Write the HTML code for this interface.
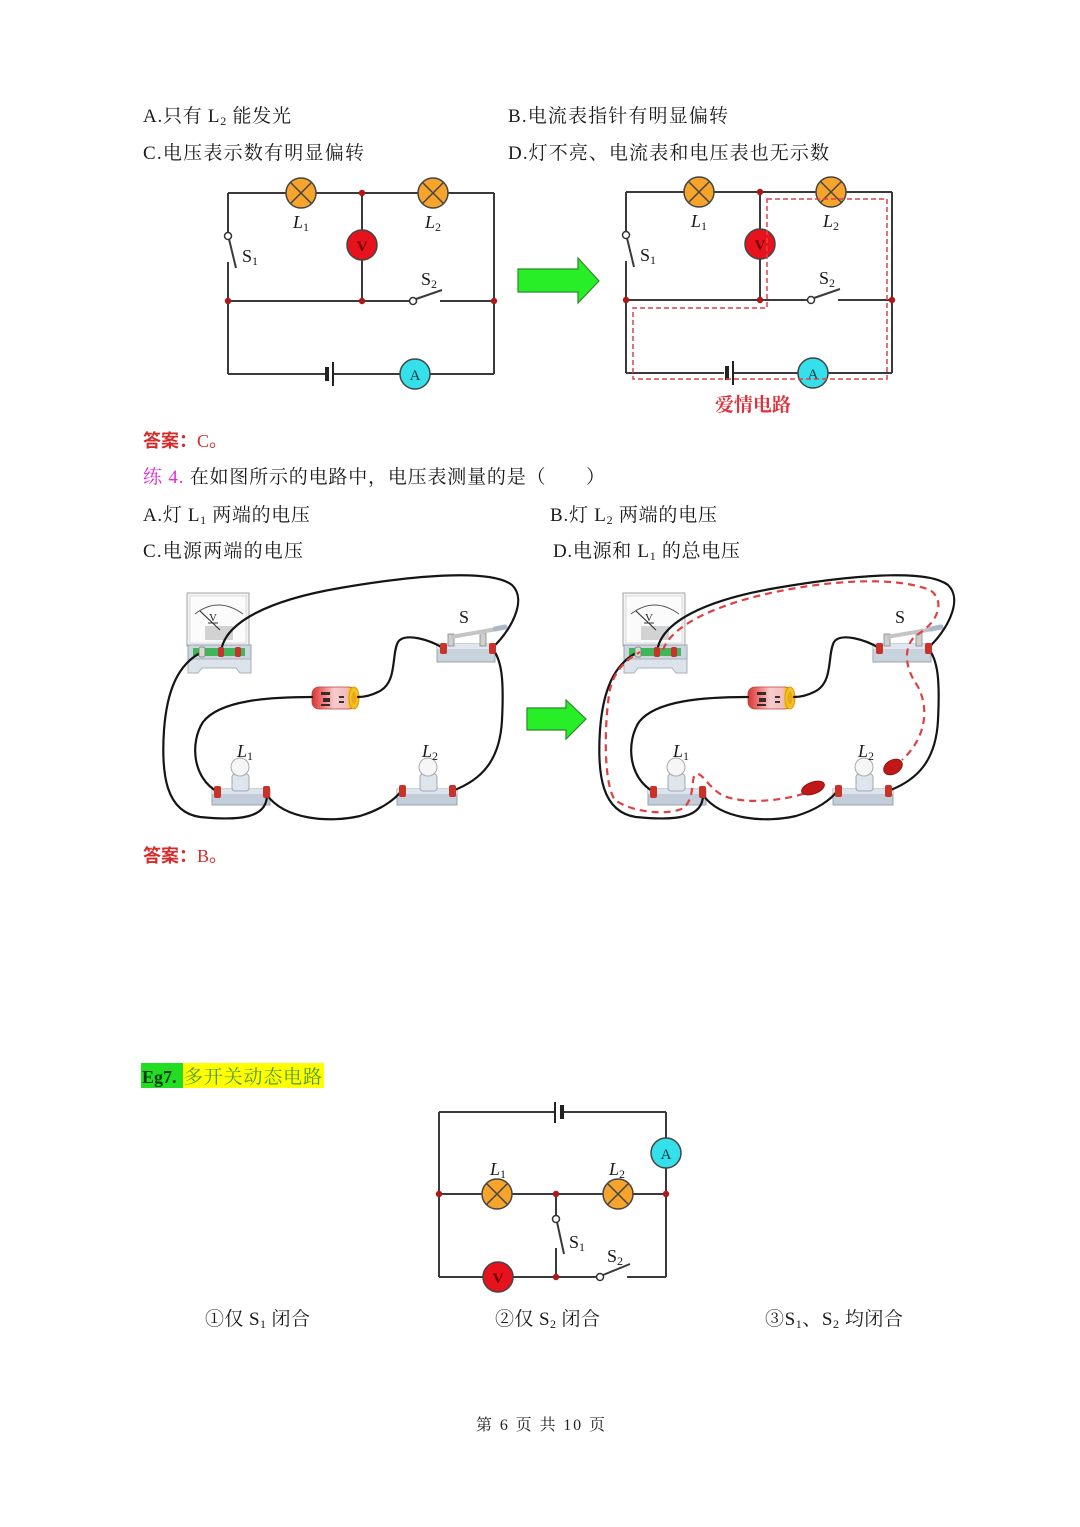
<!DOCTYPE html>
<html><head><meta charset="utf-8">
<style>
html,body{margin:0;padding:0;background:#fff;}
svg{display:block;}
.t{font-family:"Liberation Serif","Noto Serif CJK SC",serif;font-size:19px;fill:#1a1a1a;}
.lab{font-family:"Liberation Serif",serif;font-size:18px;fill:#1a1a1a;}
.it{font-style:italic;}
</style></head>
<body>
<svg width="1080" height="1527" viewBox="0 0 1080 1527" xmlns="http://www.w3.org/2000/svg">
<defs>
<linearGradient id="bat" x1="0" y1="0" x2="1" y2="0">
<stop offset="0" stop-color="#d83434"/><stop offset="0.25" stop-color="#ef7a7a"/>
<stop offset="0.5" stop-color="#f7cccc"/><stop offset="0.8" stop-color="#f2bcbc"/>
<stop offset="0.85" stop-color="#f5c21c"/><stop offset="1" stop-color="#f5c21c"/>
</linearGradient>
</defs>

<!-- ===== Text top ===== -->
<text class="t" x="143" y="122" textLength="148">A.只有 L<tspan font-size="12" dy="3">2</tspan><tspan dy="-3"> 能发光</tspan></text>
<text class="t" x="508" y="122" textLength="220">B.电流表指针有明显偏转</text>
<text class="t" x="143" y="159" textLength="221">C.电压表示数有明显偏转</text>
<text class="t" x="508" y="159" textLength="321">D.灯不亮、电流表和电压表也无示数</text>

<!-- ===== Top left circuit ===== -->
<g stroke="#3a3a3a" stroke-width="2" fill="none">
<line x1="228" y1="193" x2="494" y2="193"/>
<line x1="228" y1="193" x2="228" y2="233"/>
<line x1="229" y1="239" x2="236" y2="268"/>
<line x1="228" y1="262" x2="228" y2="374"/>
<line x1="494" y1="193" x2="494" y2="374"/>
<line x1="228" y1="301" x2="410" y2="301"/>
<line x1="416" y1="299" x2="442" y2="290"/>
<line x1="440" y1="301" x2="494" y2="301"/>
<line x1="362" y1="193" x2="362" y2="301"/>
<line x1="228" y1="374" x2="326" y2="374"/>
<line x1="334" y1="374" x2="494" y2="374"/>
</g>
<circle cx="228" cy="236" r="3.5" fill="#fff" stroke="#333" stroke-width="1.5"/>
<circle cx="413" cy="301" r="3.5" fill="#fff" stroke="#333" stroke-width="1.5"/>
<line x1="327" y1="367" x2="327" y2="381" stroke="#222" stroke-width="4"/>
<line x1="333" y1="362" x2="333" y2="386" stroke="#222" stroke-width="2"/>
<g stroke="#444" stroke-width="1.5">
<circle cx="301" cy="193" r="15" fill="#f6a42c"/>
<line x1="290.4" y1="182.4" x2="311.6" y2="203.6"/><line x1="311.6" y1="182.4" x2="290.4" y2="203.6"/>
<circle cx="433" cy="193" r="15" fill="#f6a42c"/>
<line x1="422.4" y1="182.4" x2="443.6" y2="203.6"/><line x1="443.6" y1="182.4" x2="422.4" y2="203.6"/>
<circle cx="362" cy="245" r="15" fill="#e8121c"/>
<circle cx="415" cy="374" r="15" fill="#34e0ea"/>
</g>
<text x="362" y="251" text-anchor="middle" font-family="Liberation Serif,serif" font-size="15" font-weight="bold" fill="#6a0000">V</text>
<text x="415" y="380" text-anchor="middle" font-family="Liberation Serif,serif" font-size="15" fill="#0a3a4a">A</text>
<g fill="#b01818"><circle cx="362" cy="193" r="3.2"/><circle cx="228" cy="301" r="3.2"/><circle cx="362" cy="301" r="3.2"/><circle cx="494" cy="301" r="3.2"/></g>
<text class="lab" x="293" y="228"><tspan class="it">L</tspan><tspan font-size="12" dy="3">1</tspan></text>
<text class="lab" x="425" y="228"><tspan class="it">L</tspan><tspan font-size="12" dy="3">2</tspan></text>
<text class="lab" x="242" y="262">S<tspan font-size="12" dy="3">1</tspan></text>
<text class="lab" x="421" y="285">S<tspan font-size="12" dy="3">2</tspan></text>

<!-- green arrow top -->
<polygon points="518,269 578,269 578,258 599,281 578,303 578,292 518,292" fill="#28ee28" stroke="#2a8a2a" stroke-width="1.2"/>

<!-- ===== Top right circuit ===== -->
<g transform="translate(398,-1)">
<g stroke="#3a3a3a" stroke-width="2" fill="none">
<line x1="228" y1="193" x2="494" y2="193"/>
<line x1="228" y1="193" x2="228" y2="233"/>
<line x1="229" y1="239" x2="236" y2="268"/>
<line x1="228" y1="262" x2="228" y2="374"/>
<line x1="494" y1="193" x2="494" y2="374"/>
<line x1="228" y1="301" x2="410" y2="301"/>
<line x1="416" y1="299" x2="442" y2="290"/>
<line x1="440" y1="301" x2="494" y2="301"/>
<line x1="362" y1="193" x2="362" y2="301"/>
<line x1="228" y1="374" x2="326" y2="374"/>
<line x1="334" y1="374" x2="494" y2="374"/>
</g>
<circle cx="228" cy="236" r="3.5" fill="#fff" stroke="#333" stroke-width="1.5"/>
<circle cx="413" cy="301" r="3.5" fill="#fff" stroke="#333" stroke-width="1.5"/>
<line x1="329" y1="367" x2="329" y2="381" stroke="#222" stroke-width="4"/>
<line x1="335" y1="362" x2="335" y2="386" stroke="#222" stroke-width="2"/>
<g stroke="#444" stroke-width="1.5">
<circle cx="301" cy="193" r="15" fill="#f6a42c"/>
<line x1="290.4" y1="182.4" x2="311.6" y2="203.6"/><line x1="311.6" y1="182.4" x2="290.4" y2="203.6"/>
<circle cx="433" cy="193" r="15" fill="#f6a42c"/>
<line x1="422.4" y1="182.4" x2="443.6" y2="203.6"/><line x1="443.6" y1="182.4" x2="422.4" y2="203.6"/>
<circle cx="362" cy="245" r="15" fill="#e8121c"/>
<circle cx="415" cy="374" r="15" fill="#34e0ea"/>
</g>
<text x="362" y="251" text-anchor="middle" font-family="Liberation Serif,serif" font-size="15" font-weight="bold" fill="#6a0000">V</text>
<text x="415" y="380" text-anchor="middle" font-family="Liberation Serif,serif" font-size="15" fill="#0a3a4a">A</text>
<g fill="#b01818"><circle cx="362" cy="193" r="3.2"/><circle cx="228" cy="301" r="3.2"/><circle cx="362" cy="301" r="3.2"/><circle cx="494" cy="301" r="3.2"/></g>
<text class="lab" x="293" y="228"><tspan class="it">L</tspan><tspan font-size="12" dy="3">1</tspan></text>
<text class="lab" x="425" y="228"><tspan class="it">L</tspan><tspan font-size="12" dy="3">2</tspan></text>
<text class="lab" x="242" y="262">S<tspan font-size="12" dy="3">1</tspan></text>
<text class="lab" x="421" y="285">S<tspan font-size="12" dy="3">2</tspan></text>
</g>
<polygon points="767,199 887,199 887,379 633,379 633,308 767,308" fill="none" stroke="#e2404a" stroke-width="1.5" stroke-dasharray="5,3"/>
<text x="753" y="411" text-anchor="middle" font-family="'Noto Serif CJK SC',serif" font-weight="bold" font-size="19" fill="#e0303a">爱情电路</text>

<!-- ===== Middle texts ===== -->
<text x="143" y="447" font-family="'Noto Sans CJK SC',sans-serif" font-weight="bold" font-size="18" fill="#d42a2a">答案：<tspan font-family="Liberation Serif,serif" font-weight="normal">C。</tspan></text>
<text class="t" x="143" y="483" textLength="462"><tspan fill="#e02ce0">练 4.</tspan> 在如图所示的电路中，电压表测量的是（　　）</text>
<text class="t" x="143" y="521" textLength="167">A.灯 L<tspan font-size="12" dy="3">1</tspan><tspan dy="-3"> 两端的电压</tspan></text>
<text class="t" x="550" y="521" textLength="167">B.灯 L<tspan font-size="12" dy="3">2</tspan><tspan dy="-3"> 两端的电压</tspan></text>
<text class="t" x="143" y="557" textLength="160">C.电源两端的电压</text>
<text class="t" x="553" y="557" textLength="187">D.电源和 L<tspan font-size="12" dy="3">1</tspan><tspan dy="-3"> 的总电压</tspan></text>

<!-- ===== Physical circuit left ===== -->
<g id="physL">
<!-- voltmeter -->
<rect x="187" y="593" width="62" height="53" fill="#f2f2f2" stroke="#a0a4aa"/>
<rect x="190" y="596" width="56" height="47" fill="#fbfbfb" stroke="#c8c8c8" stroke-width="0.6"/>
<path d="M195,614 Q218,596 243,614" fill="none" stroke="#555" stroke-width="1"/>
<text x="213" y="621" text-anchor="middle" font-family="Liberation Serif,serif" font-size="11" fill="#222">V</text>
<line x1="208" y1="623" x2="218" y2="623" stroke="#333" stroke-width="1"/>
<rect x="205" y="626" width="28" height="14" fill="#d2d2d2"/>
<line x1="220" y1="630" x2="200" y2="611" stroke="#333" stroke-width="1.2"/>
<rect x="188" y="645" width="63" height="14" fill="#ccd6e2" stroke="#9aa4ae"/>
<rect x="193" y="648" width="52" height="8" fill="#40b55a"/>
<path d="M188,659 H251 V673 H240 L236,668 H202 L198,673 H188 Z" fill="#dde3ea" stroke="#a9b0b8"/>
<!-- switch -->
<rect x="437" y="644" width="58" height="18" fill="#c9d3de" stroke="#9aa4ae"/>
<rect x="437" y="644" width="58" height="5" fill="#dfe6ee"/>
<rect x="448" y="634" width="6" height="12" fill="#cfcfcf" stroke="#888" stroke-width="0.8"/>
<rect x="480" y="633" width="6" height="13" fill="#cfcfcf" stroke="#888" stroke-width="0.8"/>
<line x1="451" y1="637" x2="497" y2="629" stroke="#c4c4c4" stroke-width="4"/>
<line x1="495" y1="629" x2="505" y2="627" stroke="#aab8c8" stroke-width="5" stroke-linecap="round"/>
<!-- battery -->
<rect x="312" y="687" width="44" height="22" rx="7" fill="url(#bat)" stroke="#c04040" stroke-width="0.8"/>
<rect x="321" y="692" width="9" height="3" fill="#3a2a2a"/><rect x="323" y="698" width="7" height="4" fill="#3a2a2a"/><rect x="321" y="704" width="9" height="2" fill="#3a2a2a"/>
<rect x="339" y="696" width="5" height="2" fill="#333"/><rect x="339" y="701" width="5" height="2" fill="#333"/>
<ellipse cx="354" cy="698" rx="5" ry="11" fill="#f5c21c" stroke="#d89a10"/>
<ellipse cx="354" cy="698" rx="2.5" ry="6" fill="#e8a818"/>
<!-- lamp holders -->
<rect x="212" y="789" width="58" height="16" fill="#c3cdd9" stroke="#9aa4ae"/>
<rect x="212" y="789" width="58" height="5" fill="#dbe3ec"/>
<rect x="232" y="774" width="17" height="17" rx="3" fill="#dfe5ec" stroke="#a0a8b2"/>
<circle cx="240" cy="767" r="9" fill="#f6f6f6" stroke="#a8a8a8"/>
<rect x="397" y="789" width="60" height="16" fill="#c3cdd9" stroke="#9aa4ae"/>
<rect x="397" y="789" width="60" height="5" fill="#dbe3ec"/>
<rect x="420" y="774" width="17" height="17" rx="3" fill="#dfe5ec" stroke="#a0a8b2"/>
<circle cx="428" cy="767" r="9" fill="#f6f6f6" stroke="#a8a8a8"/>
<!-- wires -->
<g fill="none" stroke="#151515" stroke-width="2.2" stroke-linecap="round">
<path d="M221,652 C224,622 270,600 340,588 C410,576 490,568 512,585 C528,600 510,632 492,648"/>
<path d="M443,648 C430,640 405,632 398,642 C391,655 398,683 378,692 C370,696 364,697 358,697"/>
<path d="M312,697 C270,697 220,700 203,722 C190,742 192,778 218,792"/>
<path d="M202,652 C178,664 167,690 164,730 C161,775 166,812 200,817 C240,821 267,818 267,795"/>
<path d="M267,795 C285,820 330,823 360,816 C380,810 395,800 402,790"/>
<path d="M452,791 C482,780 500,760 502,720 C504,680 502,660 492,648"/>
</g>
<!-- terminals -->
<rect x="199" y="647" width="6" height="10" rx="2" fill="#d9d9d0" stroke="#777" stroke-width="0.8"/>
<rect x="218" y="647" width="6" height="10" rx="2" fill="#c83228"/>
<rect x="235" y="647" width="6" height="10" rx="2" fill="#c83228"/>
<rect x="440" y="643" width="7" height="11" rx="2" fill="#c83228"/>
<rect x="489" y="643" width="7" height="11" rx="2" fill="#c83228"/>
<rect x="214" y="786" width="7" height="12" rx="2" fill="#c83228"/>
<rect x="263" y="786" width="7" height="12" rx="2" fill="#c83228"/>
<rect x="399" y="785" width="7" height="12" rx="2" fill="#c83228"/>
<rect x="449" y="785" width="7" height="12" rx="2" fill="#c83228"/>
<text class="lab" x="237" y="757"><tspan class="it">L</tspan><tspan font-size="12" dy="3">1</tspan></text>
<text class="lab" x="422" y="757"><tspan class="it">L</tspan><tspan font-size="12" dy="3">2</tspan></text>
<text class="lab" x="459" y="623">S</text>
</g>

<!-- middle green arrow -->
<polygon points="527,708 566,708 566,700 586,719 566,739 566,730 527,730" fill="#28ee28" stroke="#2a8a2a" stroke-width="1.2"/>

<!-- ===== Physical circuit right ===== -->
<g transform="translate(436,0)">
<rect x="187" y="593" width="62" height="53" fill="#f2f2f2" stroke="#a0a4aa"/>
<rect x="190" y="596" width="56" height="47" fill="#fbfbfb" stroke="#c8c8c8" stroke-width="0.6"/>
<path d="M195,614 Q218,596 243,614" fill="none" stroke="#555" stroke-width="1"/>
<text x="213" y="621" text-anchor="middle" font-family="Liberation Serif,serif" font-size="11" fill="#222">V</text>
<line x1="208" y1="623" x2="218" y2="623" stroke="#333" stroke-width="1"/>
<rect x="205" y="626" width="28" height="14" fill="#d2d2d2"/>
<line x1="220" y1="630" x2="200" y2="611" stroke="#333" stroke-width="1.2"/>
<rect x="188" y="645" width="63" height="14" fill="#ccd6e2" stroke="#9aa4ae"/>
<rect x="193" y="648" width="52" height="8" fill="#40b55a"/>
<path d="M188,659 H251 V673 H240 L236,668 H202 L198,673 H188 Z" fill="#dde3ea" stroke="#a9b0b8"/>
<rect x="437" y="644" width="58" height="18" fill="#c9d3de" stroke="#9aa4ae"/>
<rect x="437" y="644" width="58" height="5" fill="#dfe6ee"/>
<rect x="448" y="634" width="6" height="12" fill="#cfcfcf" stroke="#888" stroke-width="0.8"/>
<rect x="480" y="633" width="6" height="13" fill="#cfcfcf" stroke="#888" stroke-width="0.8"/>
<line x1="451" y1="637" x2="497" y2="629" stroke="#c4c4c4" stroke-width="4"/>
<line x1="495" y1="629" x2="505" y2="627" stroke="#aab8c8" stroke-width="5" stroke-linecap="round"/>
<rect x="312" y="687" width="44" height="22" rx="7" fill="url(#bat)" stroke="#c04040" stroke-width="0.8"/>
<rect x="321" y="692" width="9" height="3" fill="#3a2a2a"/><rect x="323" y="698" width="7" height="4" fill="#3a2a2a"/><rect x="321" y="704" width="9" height="2" fill="#3a2a2a"/>
<rect x="339" y="696" width="5" height="2" fill="#333"/><rect x="339" y="701" width="5" height="2" fill="#333"/>
<ellipse cx="354" cy="698" rx="5" ry="11" fill="#f5c21c" stroke="#d89a10"/>
<ellipse cx="354" cy="698" rx="2.5" ry="6" fill="#e8a818"/>
<rect x="212" y="789" width="58" height="16" fill="#c3cdd9" stroke="#9aa4ae"/>
<rect x="212" y="789" width="58" height="5" fill="#dbe3ec"/>
<rect x="232" y="774" width="17" height="17" rx="3" fill="#dfe5ec" stroke="#a0a8b2"/>
<circle cx="240" cy="767" r="9" fill="#f6f6f6" stroke="#a8a8a8"/>
<rect x="397" y="789" width="60" height="16" fill="#c3cdd9" stroke="#9aa4ae"/>
<rect x="397" y="789" width="60" height="5" fill="#dbe3ec"/>
<rect x="420" y="774" width="17" height="17" rx="3" fill="#dfe5ec" stroke="#a0a8b2"/>
<circle cx="428" cy="767" r="9" fill="#f6f6f6" stroke="#a8a8a8"/>
<g fill="none" stroke="#151515" stroke-width="2.2" stroke-linecap="round">
<path d="M221,652 C224,622 270,600 340,588 C410,576 490,568 512,585 C528,600 510,632 492,648"/>
<path d="M443,648 C430,640 405,632 398,642 C391,655 398,683 378,692 C370,696 364,697 358,697"/>
<path d="M312,697 C270,697 220,700 203,722 C190,742 192,778 218,792"/>
<path d="M202,652 C178,664 167,690 164,730 C161,775 166,812 200,817 C240,821 267,818 267,795"/>
<path d="M267,795 C285,820 330,823 360,816 C380,810 395,800 402,790"/>
<path d="M452,791 C482,780 500,760 502,720 C504,680 502,660 492,648"/>
</g>
<rect x="199" y="647" width="6" height="10" rx="2" fill="#d9d9d0" stroke="#777" stroke-width="0.8"/>
<rect x="218" y="647" width="6" height="10" rx="2" fill="#c83228"/>
<rect x="235" y="647" width="6" height="10" rx="2" fill="#c83228"/>
<rect x="440" y="643" width="7" height="11" rx="2" fill="#c83228"/>
<rect x="489" y="643" width="7" height="11" rx="2" fill="#c83228"/>
<rect x="214" y="786" width="7" height="12" rx="2" fill="#c83228"/>
<rect x="263" y="786" width="7" height="12" rx="2" fill="#c83228"/>
<rect x="399" y="785" width="7" height="12" rx="2" fill="#c83228"/>
<rect x="449" y="785" width="7" height="12" rx="2" fill="#c83228"/>
<text class="lab" x="237" y="757"><tspan class="it">L</tspan><tspan font-size="12" dy="3">1</tspan></text>
<text class="lab" x="422" y="757"><tspan class="it">L</tspan><tspan font-size="12" dy="3">2</tspan></text>
<text class="lab" x="459" y="623">S</text>
</g>
<g fill="none" stroke="#e04040" stroke-width="2.2" stroke-dasharray="7,5">
<path d="M663,650 C670,630 700,612 750,598 C810,582 890,574 930,590 C945,600 940,622 915,636 C903,648 905,668 917,685 C930,708 926,738 902,760"/>
<path d="M815,790 C790,800 745,806 722,795 C708,787 702,772 696,774 C690,778 696,795 684,808 C670,815 635,814 615,800 C604,785 604,730 609,695 C612,673 625,660 640,652"/>
</g>
<ellipse cx="813" cy="788" rx="12" ry="6" transform="rotate(-20 813 788)" fill="#c01818" stroke="#801010" stroke-width="0.8"/>
<ellipse cx="893" cy="767" rx="10" ry="7" transform="rotate(-30 893 767)" fill="#c01818" stroke="#801010" stroke-width="0.8"/>

<text x="143" y="862" font-family="'Noto Sans CJK SC',sans-serif" font-weight="bold" font-size="18" fill="#d42a2a">答案：<tspan font-family="Liberation Serif,serif" font-weight="normal">B。</tspan></text>

<!-- ===== Eg7 heading ===== -->
<rect x="141" y="1063" width="42" height="25" fill="#22dd22"/>
<rect x="183" y="1063" width="141" height="25" fill="#ffff00"/>
<text x="142" y="1083" font-family="Liberation Serif,serif" font-weight="bold" font-size="18" fill="#0a3a0a">Eg7.</text>
<text x="184" y="1083" font-family="'Noto Serif CJK SC',serif" font-size="19" fill="#4e9a24" textLength="138">多开关动态电路</text>

<!-- ===== Eg7 circuit ===== -->
<g stroke="#3a3a3a" stroke-width="2" fill="none">
<line x1="439" y1="1112" x2="554" y2="1112"/>
<line x1="563" y1="1112" x2="666" y2="1112"/>
<line x1="666" y1="1112" x2="666" y2="1277"/>
<line x1="439" y1="1112" x2="439" y2="1277"/>
<line x1="439" y1="1194" x2="666" y2="1194"/>
<line x1="556" y1="1194" x2="556" y2="1216"/>
<line x1="557" y1="1222" x2="564" y2="1254"/>
<line x1="556" y1="1248" x2="556" y2="1277"/>
<line x1="439" y1="1277" x2="597" y2="1277"/>
<line x1="603" y1="1275" x2="630" y2="1264"/>
<line x1="627" y1="1277" x2="666" y2="1277"/>
</g>
<line x1="555" y1="1102" x2="555" y2="1123" stroke="#222" stroke-width="2"/>
<line x1="562" y1="1105" x2="562" y2="1119" stroke="#222" stroke-width="4"/>
<circle cx="556" cy="1219" r="3.5" fill="#fff" stroke="#333" stroke-width="1.5"/>
<circle cx="600" cy="1277" r="3.5" fill="#fff" stroke="#333" stroke-width="1.5"/>
<g stroke="#444" stroke-width="1.5">
<circle cx="497" cy="1194" r="15" fill="#f6a42c"/>
<line x1="486.4" y1="1183.4" x2="507.6" y2="1204.6"/><line x1="507.6" y1="1183.4" x2="486.4" y2="1204.6"/>
<circle cx="618" cy="1194" r="15" fill="#f6a42c"/>
<line x1="607.4" y1="1183.4" x2="628.6" y2="1204.6"/><line x1="628.6" y1="1183.4" x2="607.4" y2="1204.6"/>
<circle cx="498" cy="1277" r="15" fill="#e8121c"/>
<circle cx="666" cy="1153" r="15" fill="#34e0ea"/>
</g>
<text x="498" y="1283" text-anchor="middle" font-family="Liberation Serif,serif" font-size="15" font-weight="bold" fill="#6a0000">V</text>
<text x="666" y="1159" text-anchor="middle" font-family="Liberation Serif,serif" font-size="15" fill="#0a3a4a">A</text>
<g fill="#b01818"><circle cx="439" cy="1194" r="3.2"/><circle cx="556" cy="1194" r="3.2"/><circle cx="666" cy="1194" r="3.2"/><circle cx="556" cy="1277" r="3.2"/></g>
<text class="lab" x="490" y="1175"><tspan class="it">L</tspan><tspan font-size="12" dy="3">1</tspan></text>
<text class="lab" x="609" y="1175"><tspan class="it">L</tspan><tspan font-size="12" dy="3">2</tspan></text>
<text class="lab" x="569" y="1248">S<tspan font-size="12" dy="3">1</tspan></text>
<text class="lab" x="607" y="1262">S<tspan font-size="12" dy="3">2</tspan></text>

<!-- ===== bottom labels ===== -->
<text class="t" x="205" y="1325" textLength="105">①仅 S<tspan font-size="12" dy="3">1</tspan><tspan dy="-3"> 闭合</tspan></text>
<text class="t" x="495" y="1325" textLength="105">②仅 S<tspan font-size="12" dy="3">2</tspan><tspan dy="-3"> 闭合</tspan></text>
<text class="t" x="765" y="1325" textLength="138">③S<tspan font-size="12" dy="3">1</tspan><tspan dy="-3">、S</tspan><tspan font-size="12" dy="3">2</tspan><tspan dy="-3"> 均闭合</tspan></text>

<text x="476" y="1430" font-family="'Liberation Serif','Noto Serif CJK SC',serif" font-size="16" fill="#222" textLength="129">第 6 页 共 10 页</text>
</svg>
</body></html>
